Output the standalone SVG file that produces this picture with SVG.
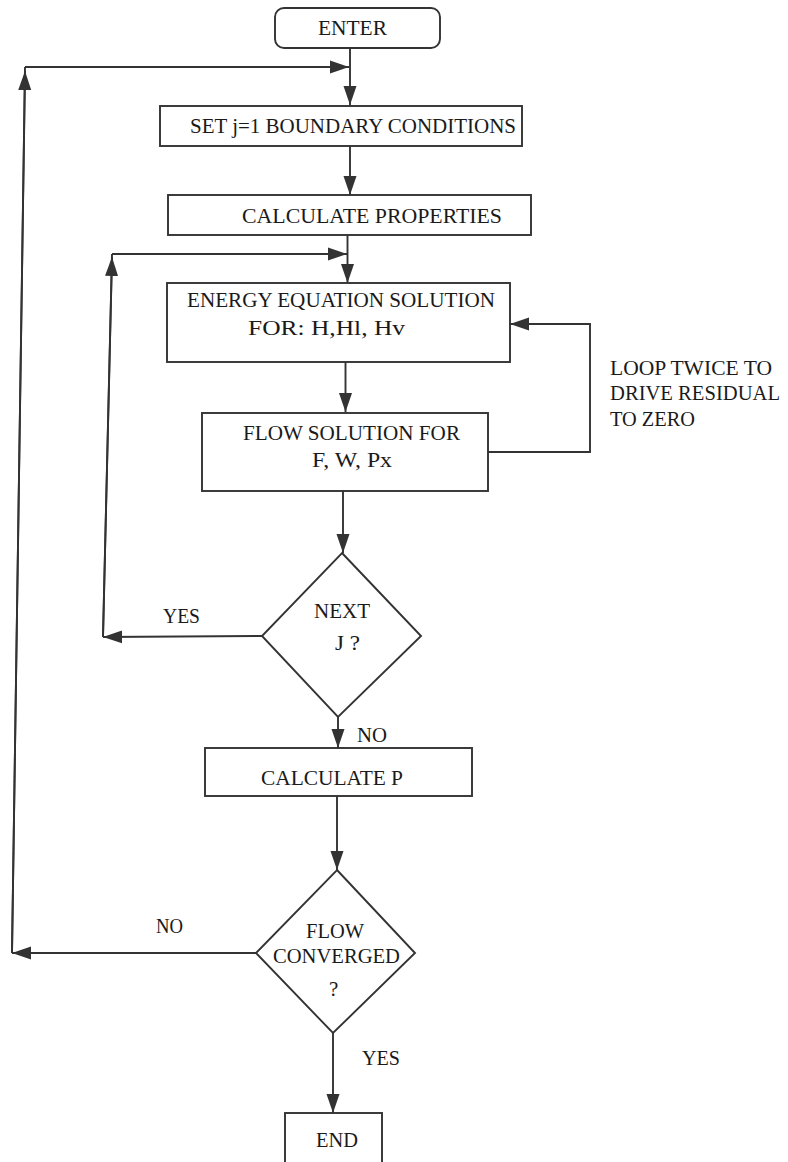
<svg xmlns="http://www.w3.org/2000/svg" width="788" height="1162" viewBox="0 0 788 1162">
<defs>
<marker id="arr" markerUnits="userSpaceOnUse" markerWidth="20" markerHeight="14" refX="19" refY="7" orient="auto">
<path d="M0,0.5 L19,7 L0,13.5 z" fill="#333"/>
</marker>
<style>
.box{fill:#fff;stroke:#333;stroke-width:1.9}
.ln{fill:none;stroke:#333;stroke-width:1.9}
.t{font-family:"Liberation Serif","Times New Roman",serif;font-size:22px;fill:#1a1a1a}
.s{font-size:21px}
</style>
</defs>
<rect width="788" height="1162" fill="#fff"/>
<g id="connectors">
<line class="ln" x1="350" y1="48" x2="350" y2="105" marker-end="url(#arr)"/>
<line class="ln" x1="350" y1="146" x2="350" y2="195" marker-end="url(#arr)"/>
<line class="ln" x1="347.5" y1="235" x2="347.5" y2="283" marker-end="url(#arr)"/>
<line class="ln" x1="345.5" y1="362" x2="345.5" y2="412" marker-end="url(#arr)"/>
<line class="ln" x1="343" y1="491" x2="343" y2="553" marker-end="url(#arr)"/>
<line class="ln" x1="338" y1="717" x2="338" y2="748" marker-end="url(#arr)"/>
<line class="ln" x1="337" y1="796" x2="337" y2="870" marker-end="url(#arr)"/>
<line class="ln" x1="333" y1="1033" x2="333" y2="1113" marker-end="url(#arr)"/>
<path class="ln" d="M488,452 H590 V324 H510" marker-end="url(#arr)"/>
<line class="ln" x1="262" y1="636" x2="103" y2="637" marker-end="url(#arr)"/>
<line class="ln" x1="103" y1="637" x2="112" y2="257" marker-end="url(#arr)"/>
<line class="ln" x1="112" y1="254" x2="347" y2="254" marker-end="url(#arr)"/>
<line class="ln" x1="256" y1="953" x2="12" y2="953" marker-end="url(#arr)"/>
<line class="ln" x1="12" y1="953" x2="25" y2="71" marker-end="url(#arr)"/>
<line class="ln" x1="25" y1="67" x2="349" y2="67" marker-end="url(#arr)"/>
<path class="ln" d="M103,637 L112,254 M12,953 L25,67"/>
</g>
<g id="enter">
<rect class="box" x="275" y="8" width="165" height="40" rx="9"/>
<text class="t" x="318" y="35" textLength="69" lengthAdjust="spacingAndGlyphs">ENTER</text>
</g>
<g id="set">
<rect class="box" x="160" y="106" width="362" height="40"/>
<text class="t" x="190" y="133" textLength="326" lengthAdjust="spacingAndGlyphs">SET j=1 BOUNDARY CONDITIONS</text>
</g>
<g id="calcprops">
<rect class="box" x="168" y="195" width="363" height="40"/>
<text class="t" x="242" y="223" textLength="260" lengthAdjust="spacingAndGlyphs">CALCULATE PROPERTIES</text>
</g>
<g id="energy">
<rect class="box" x="167" y="283" width="343" height="79"/>
<text class="t" x="187" y="307" textLength="308" lengthAdjust="spacingAndGlyphs">ENERGY EQUATION SOLUTION</text>
<text class="t" x="248" y="335" textLength="157" lengthAdjust="spacingAndGlyphs">FOR: H,Hl, Hv</text>
</g>
<g id="flow">
<rect class="box" x="202" y="413" width="286" height="78"/>
<text class="t" x="243" y="440" textLength="217" lengthAdjust="spacingAndGlyphs">FLOW SOLUTION FOR</text>
<text class="t" x="312" y="467" textLength="80" lengthAdjust="spacingAndGlyphs">F, W, Px</text>
</g>
<g id="loopnote">
<text class="t s" x="610" y="375" textLength="162" lengthAdjust="spacingAndGlyphs">LOOP TWICE TO</text>
<text class="t s" x="610" y="400" textLength="170" lengthAdjust="spacingAndGlyphs">DRIVE RESIDUAL</text>
<text class="t s" x="610" y="426" textLength="85" lengthAdjust="spacingAndGlyphs">TO ZERO</text>
</g>
<g id="nextj">
<polygon class="box" points="342,553 421,636 338,717 262,636"/>
<text class="t s" x="314" y="618" textLength="56" lengthAdjust="spacingAndGlyphs">NEXT</text>
<text class="t s" x="335" y="650" textLength="25" lengthAdjust="spacingAndGlyphs">J ?</text>
</g>
<g id="labels">
<text class="t s" x="163" y="623" textLength="37" lengthAdjust="spacingAndGlyphs">YES</text>
<text class="t s" x="357" y="742" textLength="30" lengthAdjust="spacingAndGlyphs">NO</text>
<text class="t s" x="156" y="933" textLength="27" lengthAdjust="spacingAndGlyphs">NO</text>
<text class="t s" x="362" y="1065" textLength="38" lengthAdjust="spacingAndGlyphs">YES</text>
</g>
<g id="calcp">
<rect class="box" x="205" y="748" width="267" height="48"/>
<text class="t" x="261" y="785" textLength="142" lengthAdjust="spacingAndGlyphs">CALCULATE P</text>
</g>
<g id="converged">
<polygon class="box" points="337,870 415,953 333,1033 256,953"/>
<text class="t s" x="306" y="938" textLength="58" lengthAdjust="spacingAndGlyphs">FLOW</text>
<text class="t s" x="273" y="963" textLength="127" lengthAdjust="spacingAndGlyphs">CONVERGED</text>
<text class="t s" x="329" y="996">?</text>
</g>
<g id="end">
<rect class="box" x="285" y="1113" width="97" height="70"/>
<text class="t s" x="316" y="1147" textLength="42" lengthAdjust="spacingAndGlyphs">END</text>
</g>
</svg>
